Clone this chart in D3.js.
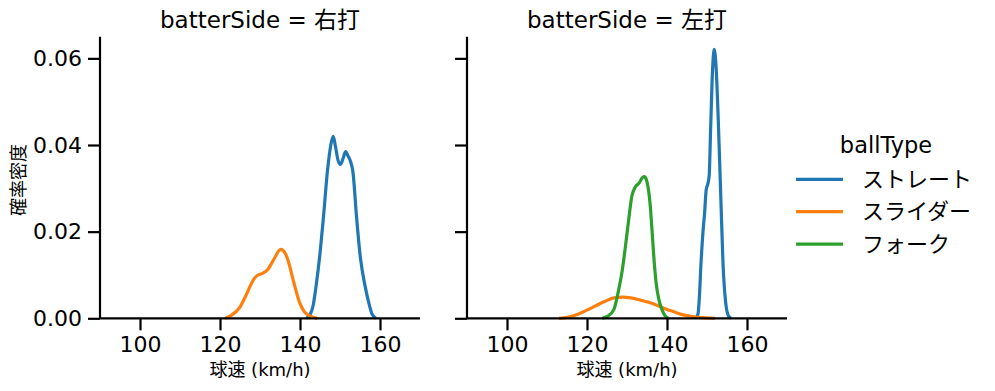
<!DOCTYPE html>
<html><head><meta charset="utf-8">
<script src="https://cdn.jsdelivr.net/npm/d3@7"></script>
<style>body{margin:0;background:#fff}svg{display:block}text{font-family:"DejaVu Sans","Noto Sans CJK JP",sans-serif;fill:#000}</style>
</head><body>
<script>
const panels = ["右打", "左打"];
const ballTypes = ["ストレート", "スライダー", "フォーク"];
const colors = ["#1f77b4", "#ff7f0e", "#2ca02c"];
const xTicks = [100, 120, 140, 160];
const yTicks = [0, 0.02, 0.04, 0.06];

// [speed, density]
const rightStraight = [[141.6,0],[142.5,0.0008],[143.3,0.003],[144.0,0.0073],[145.0,0.015],[145.8,0.0227],[146.9,0.0343],[147.7,0.040],[148.3,0.042],[148.8,0.040],[149.5,0.0365],[150.1,0.0355],[150.8,0.037],[151.4,0.0385],[152.0,0.0375],[152.7,0.036],[153.2,0.034],[154.2,0.0227],[155.1,0.014],[156.3,0.0073],[157.3,0.0032],[158.0,0.001],[159.0,0]];
const rightSlider = [[121.3,0],[122.7,0.0006],[125.0,0.0026],[126.6,0.0055],[128.3,0.0088],[129.5,0.0100],[130.5,0.0103],[131.9,0.0112],[133.4,0.0135],[135.2,0.0159],[136.3,0.0150],[137.0,0.0134],[138.3,0.0088],[140.0,0.0034],[141.1,0.0015],[142.5,0.0005],[144.3,0]];
const leftStraight = [[147.0,0],[147.75,0.001],[148.1,0.005],[148.5,0.0127],[149.0,0.020],[149.4,0.0243],[149.8,0.0297],[150.2,0.031],[150.55,0.033],[150.9,0.0435],[151.4,0.0575],[151.8,0.0621],[152.3,0.0575],[152.9,0.0435],[153.45,0.028],[154.0,0.0127],[154.7,0.0034],[155.4,0.0005],[156.0,0]];
const leftSlider = [[113.0,0],[115.1,0.0002],[117.0,0.0007],[118.9,0.0014],[120.9,0.0023],[122.8,0.0032],[124.7,0.004],[126.7,0.0047],[129.0,0.0049],[131.0,0.0047],[133.4,0.0042],[135.4,0.0037],[137.5,0.003],[139.5,0.0022],[141.7,0.0015],[143.6,0.0009],[145.8,0.0005],[147.9,0.0002],[152.0,0]];
const leftFork = [[123.8,0],[125.2,0.0005],[126.7,0.002],[127.9,0.0065],[128.8,0.011],[129.6,0.0165],[130.45,0.023],[131.2,0.0281],[132.0,0.0302],[133.0,0.0312],[133.9,0.0325],[134.4,0.0327],[135.0,0.0315],[135.4,0.0295],[135.9,0.025],[136.25,0.0204],[136.8,0.013],[137.3,0.008],[138.0,0.0042],[138.8,0.0019],[139.5,0.0006],[140.4,0]];

const panelData = [
  [{t:0, v:rightStraight},{t:1, v:rightSlider}],
  [{t:0, v:leftStraight},{t:1, v:leftSlider},{t:2, v:leftFork}]
];

const FONT = '"DejaVu Sans","Noto Sans CJK JP",sans-serif';
const W = 995, H = 391;
const svg = d3.select("body").append("svg").attr("width", W).attr("height", H);
const plotTop = 36.7, plotBottom = 318.3;
const lefts = [100, 467], pw = 320;
const y = d3.scaleLinear().domain([0, 0.065]).range([plotBottom, plotTop]);

panels.forEach((p, i) => {
  const x = d3.scaleLinear().domain([90, 170]).range([lefts[i], lefts[i] + pw]);
  const g = svg.append("g");
  const line = d3.line().x(d => x(d[0])).y(d => y(d[1])).curve(d3.curveMonotoneX);
  panelData[i].forEach(s => {
    g.append("path").datum(s.v).attr("d", line).attr("fill", "none")
      .attr("stroke", colors[s.t]).attr("stroke-width", 3.2).attr("stroke-linejoin","round");
  });
  const xa = g.append("g").attr("transform", `translate(0,${plotBottom})`)
    .call(d3.axisBottom(x).tickValues(xTicks).tickSize(12).tickPadding(6).tickFormat(d3.format("d")));
  const ya = g.append("g").attr("transform", `translate(${lefts[i]},0)`)
    .call(d3.axisLeft(y).tickValues(yTicks).tickSize(12).tickPadding(6).tickFormat(i === 0 ? d3.format(".2f") : () => ""));
  [xa, ya].forEach(a => {
    a.select(".domain").attr("stroke", "#000").attr("stroke-width", 2.2);
    a.selectAll(".tick line").attr("stroke", "#000").attr("stroke-width", 2.2);
    a.selectAll(".tick text").attr("font-size", 22).style("font-family", FONT);
  });
  ya.select(".domain").attr("d", `M0,${plotBottom}V${plotTop}`);
  xa.select(".domain").attr("d", `M${lefts[i]},0H${lefts[i] + pw}`);
  svg.append("text").attr("x", lefts[i] + pw / 2).attr("y", 28).attr("text-anchor", "middle")
    .attr("font-size", 23).text(`batterSide = ${p}`);
  svg.append("text").attr("x", lefts[i] + pw / 2).attr("y", 376).attr("text-anchor", "middle")
    .attr("font-size", 18).text("球速 (km/h)");
});

svg.append("text").attr("transform", "translate(25,180) rotate(-90)").attr("text-anchor", "middle")
  .attr("font-size", 18).text("確率密度");

const lg = svg.append("g");
lg.append("text").attr("x", 886).attr("y", 153).attr("text-anchor", "middle").attr("font-size", 22.5).text("ballType");
ballTypes.forEach((b, k) => {
  const yy = 179.3 + k * 32.4;
  lg.append("line").attr("x1", 796).attr("x2", 843).attr("y1", yy).attr("y2", yy)
    .attr("stroke", colors[k]).attr("stroke-width", 3.2);
  lg.append("text").attr("x", 862).attr("y", yy).attr("dy", "0.35em").attr("font-size", 22).text(b);
});
</script>
</body></html>
